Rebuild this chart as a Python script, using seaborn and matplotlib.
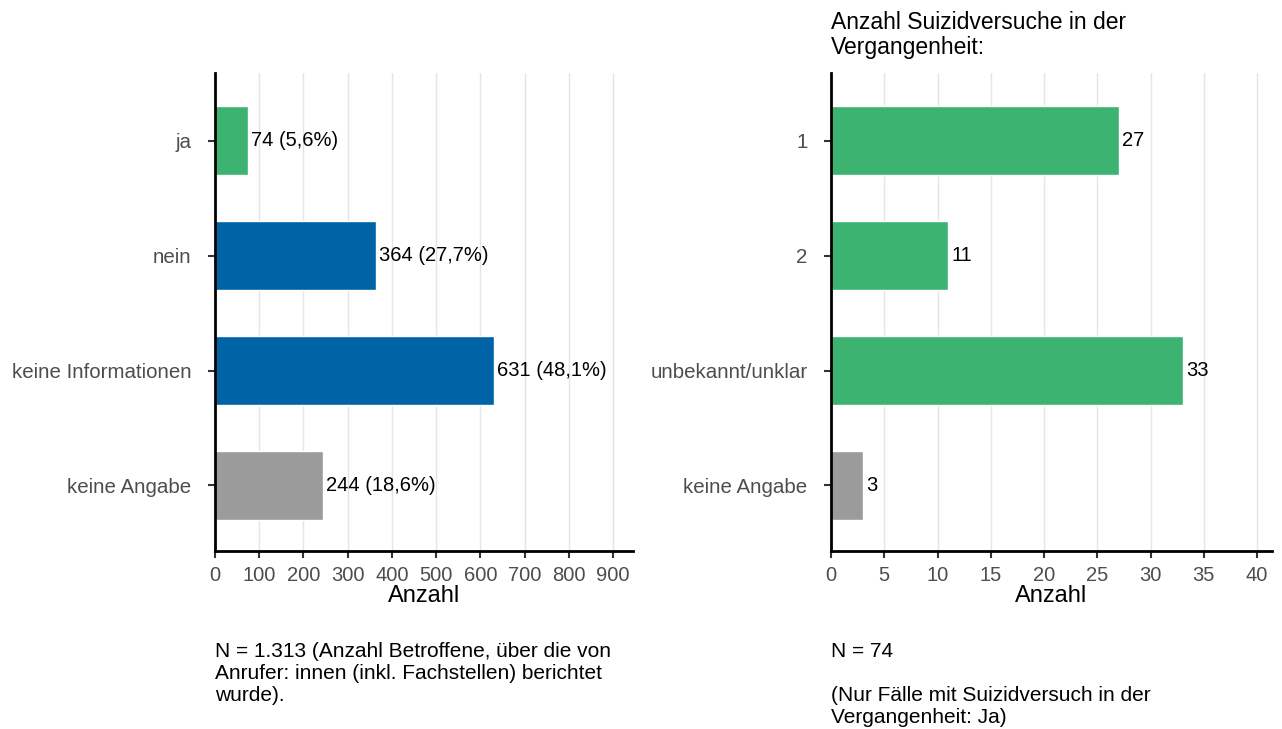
import matplotlib
matplotlib.use("Agg")
import matplotlib.pyplot as plt
import pandas as pd
import seaborn as sns

# left panel: Suizidversuch in der Vergangenheit
left_cats = ["ja", "nein", "keine Informationen", "keine Angabe"]
left_vals = [74, 364, 631, 244]
left_pct = ["5,6%", "27,7%", "48,1%", "18,6%"]
left_cols = ["#3CB371", "#0063A6", "#0063A6", "#9B9B9B"]

# right panel: Anzahl Suizidversuche
right_cats = ["1", "2", "unbekannt/unklar", "keine Angabe"]
right_vals = [27, 11, 33, 3]
right_cols = ["#3CB371", "#3CB371", "#3CB371", "#9B9B9B"]

left_ticks = [0, 100, 200, 300, 400, 500, 600, 700, 800, 900]
right_ticks = [0, 5, 10, 15, 20, 25, 30, 35, 40]

sns.set_theme(style="white")
plt.rcParams['font.family'] = ['Liberation Sans', 'DejaVu Sans']

fig = plt.figure(figsize=(12.82, 7.29), dpi=100)
ax1 = fig.add_axes([0.1677, 0.2442, 0.3261, 0.6557])
ax2 = fig.add_axes([0.6482, 0.2442, 0.3440, 0.6557])


def draw(ax, cats, vals, cols, ticks, xmax, labels):
    d = pd.DataFrame({'cat': cats, 'val': vals})
    sns.barplot(data=d, x='val', y='cat', hue='cat', palette=dict(zip(cats, cols)),
                orient='h', width=0.6, legend=False, ax=ax, saturation=1)
    ax.set_xlim(0, xmax)
    ax.set_ylim(3.57, -0.59)
    ax.set_xticks(ticks)
    ax.set_xticklabels([str(t) for t in ticks], fontsize=14.5, color='#4D4D4D')
    ax.tick_params(axis='y', labelsize=14.8, labelcolor='#4D4D4D', length=5, width=1.5,
                   color='#333333', left=True, pad=12)
    ax.tick_params(axis='x', length=5, width=1.5, color='#333333', bottom=True, pad=6)
    ax.set_ylabel('')
    ax.set_xlabel('Anzahl', fontsize=17, labelpad=0, color='black')
    ax.grid(axis='x', color='#E5E5E5', linewidth=1)
    ax.set_axisbelow(True)
    for s in ['top', 'right']:
        ax.spines[s].set_visible(False)
    for s in ['left', 'bottom']:
        ax.spines[s].set_color('black')
        ax.spines[s].set_linewidth(2)
    off = xmax * 0.008
    for i, (v, lab) in enumerate(zip(vals, labels)):
        ax.text(v + off, i, lab, va='center', ha='left', fontsize=14.5, color='black')


draw(ax1, left_cats, left_vals, left_cols, left_ticks, 945,
     [f"{v} ({p})" for v, p in zip(left_vals, left_pct)])
draw(ax2, right_cats, right_vals, right_cols, right_ticks, 41.4,
     [str(v) for v in right_vals])

fig.text(831 / 1282, 1 - 11 / 729, "Anzahl Suizidversuche in der\nVergangenheit:",
         ha='left', va='top', fontsize=16.5, linespacing=1.1, color='black')

fig.text(215 / 1282, 1 - 642 / 729,
         "N = 1.313 (Anzahl Betroffene, über die von\nAnrufer: innen (inkl. Fachstellen) berichtet\nwurde).",
         ha='left', va='top', fontsize=15, linespacing=1.2, color='black')
fig.text(831 / 1282, 1 - 642 / 729,
         "N = 74\n\n(Nur Fälle mit Suizidversuch in der\nVergangenheit: Ja)",
         ha='left', va='top', fontsize=15, linespacing=1.2, color='black')

fig.savefig("out.png", dpi=100)
